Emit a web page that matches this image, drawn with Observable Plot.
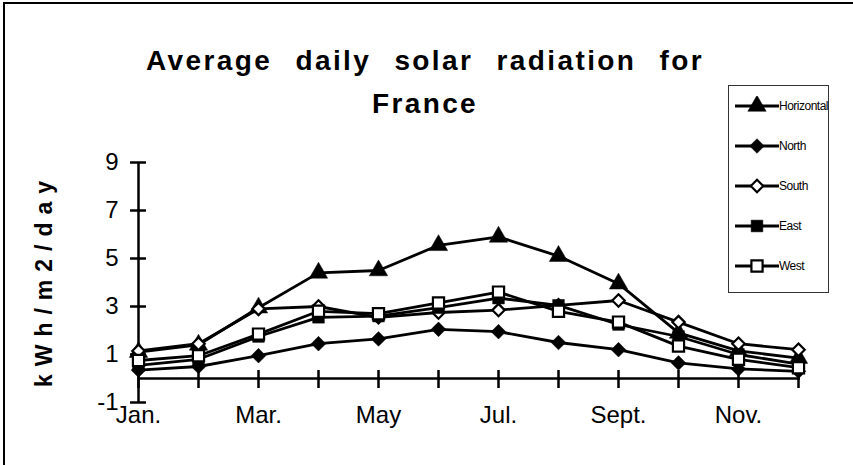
<!DOCTYPE html>
<html>
<head>
<meta charset="utf-8">
<script src="https://cdn.jsdelivr.net/npm/d3@7"></script>
<script src="https://cdn.jsdelivr.net/npm/@observablehq/plot@0.6"></script>
<style>
  html, body { margin: 0; padding: 0; background: #fff; }
  #wrap { position: relative; width: 853px; height: 465px; overflow: hidden; font-family: "Liberation Sans", Arial, sans-serif; color: #000; }
  #frame { position: absolute; left: 3px; top: 2px; right: -4px; bottom: -4px; border-top: 2px solid #000; border-left: 2px solid #000; }
  #title { position: absolute; left: 0; top: 39px; width: 850px; text-align: center; font-weight: bold; font-size: 28px; line-height: 43px; letter-spacing: 2.4px; word-spacing: 13px; }
  #ylabel { position: absolute; left: -106px; top: 265px; width: 300px; height: 30px; line-height: 30px; text-align: center; font-weight: bold; font-size: 23px; letter-spacing: 8px; transform: rotate(-90deg); transform-origin: 150px 15px; white-space: nowrap; }
  #chart { position: absolute; left: 0; top: 0; }
  #legend { position: absolute; left: 728px; top: 85px; width: 101px; height: 208px; box-sizing: border-box; border: 1px solid #333; background: #fff; }
  .lrow { position: absolute; left: 0; height: 20px; width: 100px; }
  .lrow svg { position: absolute; left: 5px; top: 0; }
  .lrow span { position: absolute; left: 50px; top: 2px; font-size: 12px; line-height: 16px; letter-spacing: -0.5px; white-space: nowrap; }
</style>
</head>
<body>
<div id="wrap">
  <div id="frame"></div>
  <div id="chart"></div>
  <div id="title">Average daily solar radiation for<br>France</div>
  <div id="ylabel">kWh/m2/day</div>
  <div id="legend"></div>
</div>
<script>
// ---- data ----
const months = [1, 2, 3, 4, 5, 6, 7, 8, 9, 10, 11, 12];
const xLabelMonths = [1, 3, 5, 7, 9, 11];
const xLabels = ["Jan.", "Mar.", "May", "Jul.", "Sept.", "Nov."];
const yTicks = [-1, 1, 3, 5, 7, 9];
const seriesNames = ["Horizontal", "North", "South", "East", "West"];
const horizontal = [1.1, 1.4, 2.95, 4.4, 4.5, 5.55, 5.9, 5.1, 3.95, 1.9, 1.15, 0.85];
const north      = [0.35, 0.5, 0.95, 1.45, 1.65, 2.05, 1.95, 1.5, 1.2, 0.65, 0.4, 0.3];
const south      = [1.15, 1.45, 2.9, 3.0, 2.55, 2.75, 2.85, 3.05, 3.25, 2.35, 1.45, 1.2];
const east       = [0.55, 0.8, 1.75, 2.55, 2.6, 2.95, 3.35, 3.05, 2.25, 1.75, 1.0, 0.6];
const west       = [0.75, 0.95, 1.85, 2.8, 2.7, 3.15, 3.6, 2.8, 2.35, 1.35, 0.8, 0.45];

// ---- styles per series ----
const seriesValues = [horizontal, north, south, east, west];
const symbols = ["triangle", "diamond2", "diamond2", "square", "square"];
const fills = ["black", "black", "white", "black", "white"];
const radii = [6.8, 6.6, 5.6, 6.6, 6.3];

const rows = [];
seriesNames.forEach((name, s) => {
  months.forEach((m, i) => rows.push({series: name, month: m, value: seriesValues[s][i]}));
});

const marks = [
  // axes lines
  Plot.ruleX([months[0]], {y1: yTicks[0], y2: yTicks[yTicks.length - 1], strokeWidth: 2.5}),
  Plot.ruleY([0], {x1: months[0], x2: months[months.length - 1], strokeWidth: 2.5, insetRight: -2}),
  // crossing ticks
  Plot.ruleY(yTicks, {x1: months[0], x2: months[0], insetLeft: -8, insetRight: -8, strokeWidth: 2.5}),
  Plot.ruleX(months, {y1: 0, y2: 0, insetTop: -8, insetBottom: -10, strokeWidth: 2.5}),
  // tick labels
  Plot.axisY(yTicks, {tickSize: 0, tickPadding: 20, fontSize: 24, label: null, tickFormat: d => String(d)}),
  Plot.axisX(xLabelMonths, {tickSize: 0, tickPadding: 3, fontSize: 24, label: null, tickFormat: d => xLabels[xLabelMonths.indexOf(d)]})
];
seriesNames.forEach((name, s) => {
  const d = rows.filter(r => r.series === name);
  marks.push(Plot.line(d, {x: "month", y: "value", stroke: "black", strokeWidth: 2.8}));
  marks.push(Plot.dot(d, {x: "month", y: "value", symbol: () => symbols[s], r: radii[s], fill: fills[s], stroke: "black", strokeWidth: fills[s] === "white" ? 2.2 : 0.5}));
});

const chart = Plot.plot({
  width: 853,
  height: 465,
  marginLeft: 138,
  marginRight: 55,
  marginTop: 162,
  marginBottom: 63,
  x: {domain: [1, 12], axis: null, label: null},
  y: {domain: [-1, 9], axis: null, label: null},
  symbol: {type: "identity"},
  style: {fontFamily: "Liberation Sans, Arial, sans-serif", background: "transparent", color: "black", overflow: "visible"},
  marks
});
document.getElementById("chart").appendChild(chart);

// ---- legend ----
const legend = d3.select("#legend");
const symMap = {triangle: d3.symbolTriangle, diamond2: d3.symbolDiamond2, square: d3.symbolSquare};
seriesNames.forEach((name, s) => {
  const row = legend.append("div").attr("class", "lrow").style("top", (10 + s * 40) + "px");
  const svg = row.append("svg").attr("width", 46).attr("height", 20);
  svg.append("line").attr("x1", 1).attr("x2", 45).attr("y1", 10).attr("y2", 10).attr("stroke", "black").attr("stroke-width", 2.8);
  svg.append("path")
    .attr("transform", "translate(23,10)")
    .attr("d", d3.symbol(symMap[symbols[s]], radii[s] * radii[s] * Math.PI)())
    .attr("fill", fills[s]).attr("stroke", "black").attr("stroke-width", fills[s] === "white" ? 2.2 : 0.5);
  row.append("span").text(name);
});
</script>
</body>
</html>
